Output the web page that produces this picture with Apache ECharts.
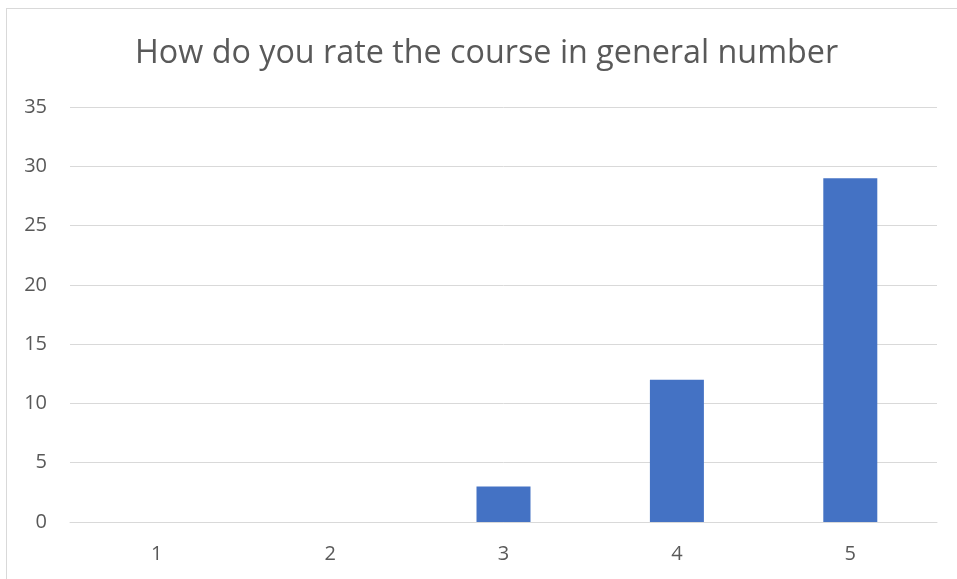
<!DOCTYPE html>
<html><head><meta charset="utf-8">
<script src="https://cdn.jsdelivr.net/npm/echarts@6/dist/echarts.min.js"></script>
<style>
html,body{margin:0;padding:0;background:#fff;}
#frame{position:absolute;left:6px;top:8px;width:1000px;height:700px;border:1px solid #d9d9d9;}
#c{position:absolute;left:0;top:0;width:957px;height:579px;}
</style></head>
<body><div id="frame"></div><div id="c"></div>
<script>
var titleText = "How do you rate the course in general number";
var categories = ["1","2","3","4","5"];
var values = [0,0,3,12,29];
var yMin = 0, yMax = 35, yStep = 5;

var chart = echarts.init(document.getElementById('c'));
chart.setOption({
  animation:false,
  backgroundColor:'transparent',
  title:{text:titleText,left:130,top:33,textStyle:{fontFamily:'Open Sans',fontSize:32.3,fontWeight:'normal',color:'#595959'}},
  grid:{left:70,right:20,top:107,bottom:57,containLabel:false},
  xAxis:{type:'category',data:categories,axisLine:{lineStyle:{color:'#d9d9d9',width:1}},axisTick:{show:false},
    axisLabel:{color:'#595959',fontFamily:'Open Sans',fontSize:20,margin:22}},
  yAxis:{type:'value',min:yMin,max:yMax,interval:yStep,axisLine:{show:false},axisTick:{show:false},
    splitLine:{lineStyle:{color:'#d9d9d9',width:1}},
    axisLabel:{color:'#595959',fontFamily:'Open Sans',fontSize:20,margin:23}},
  series:[{type:'bar',data:values,barWidth:54,itemStyle:{color:'#4472C4'}}]
});
</script></body></html>
